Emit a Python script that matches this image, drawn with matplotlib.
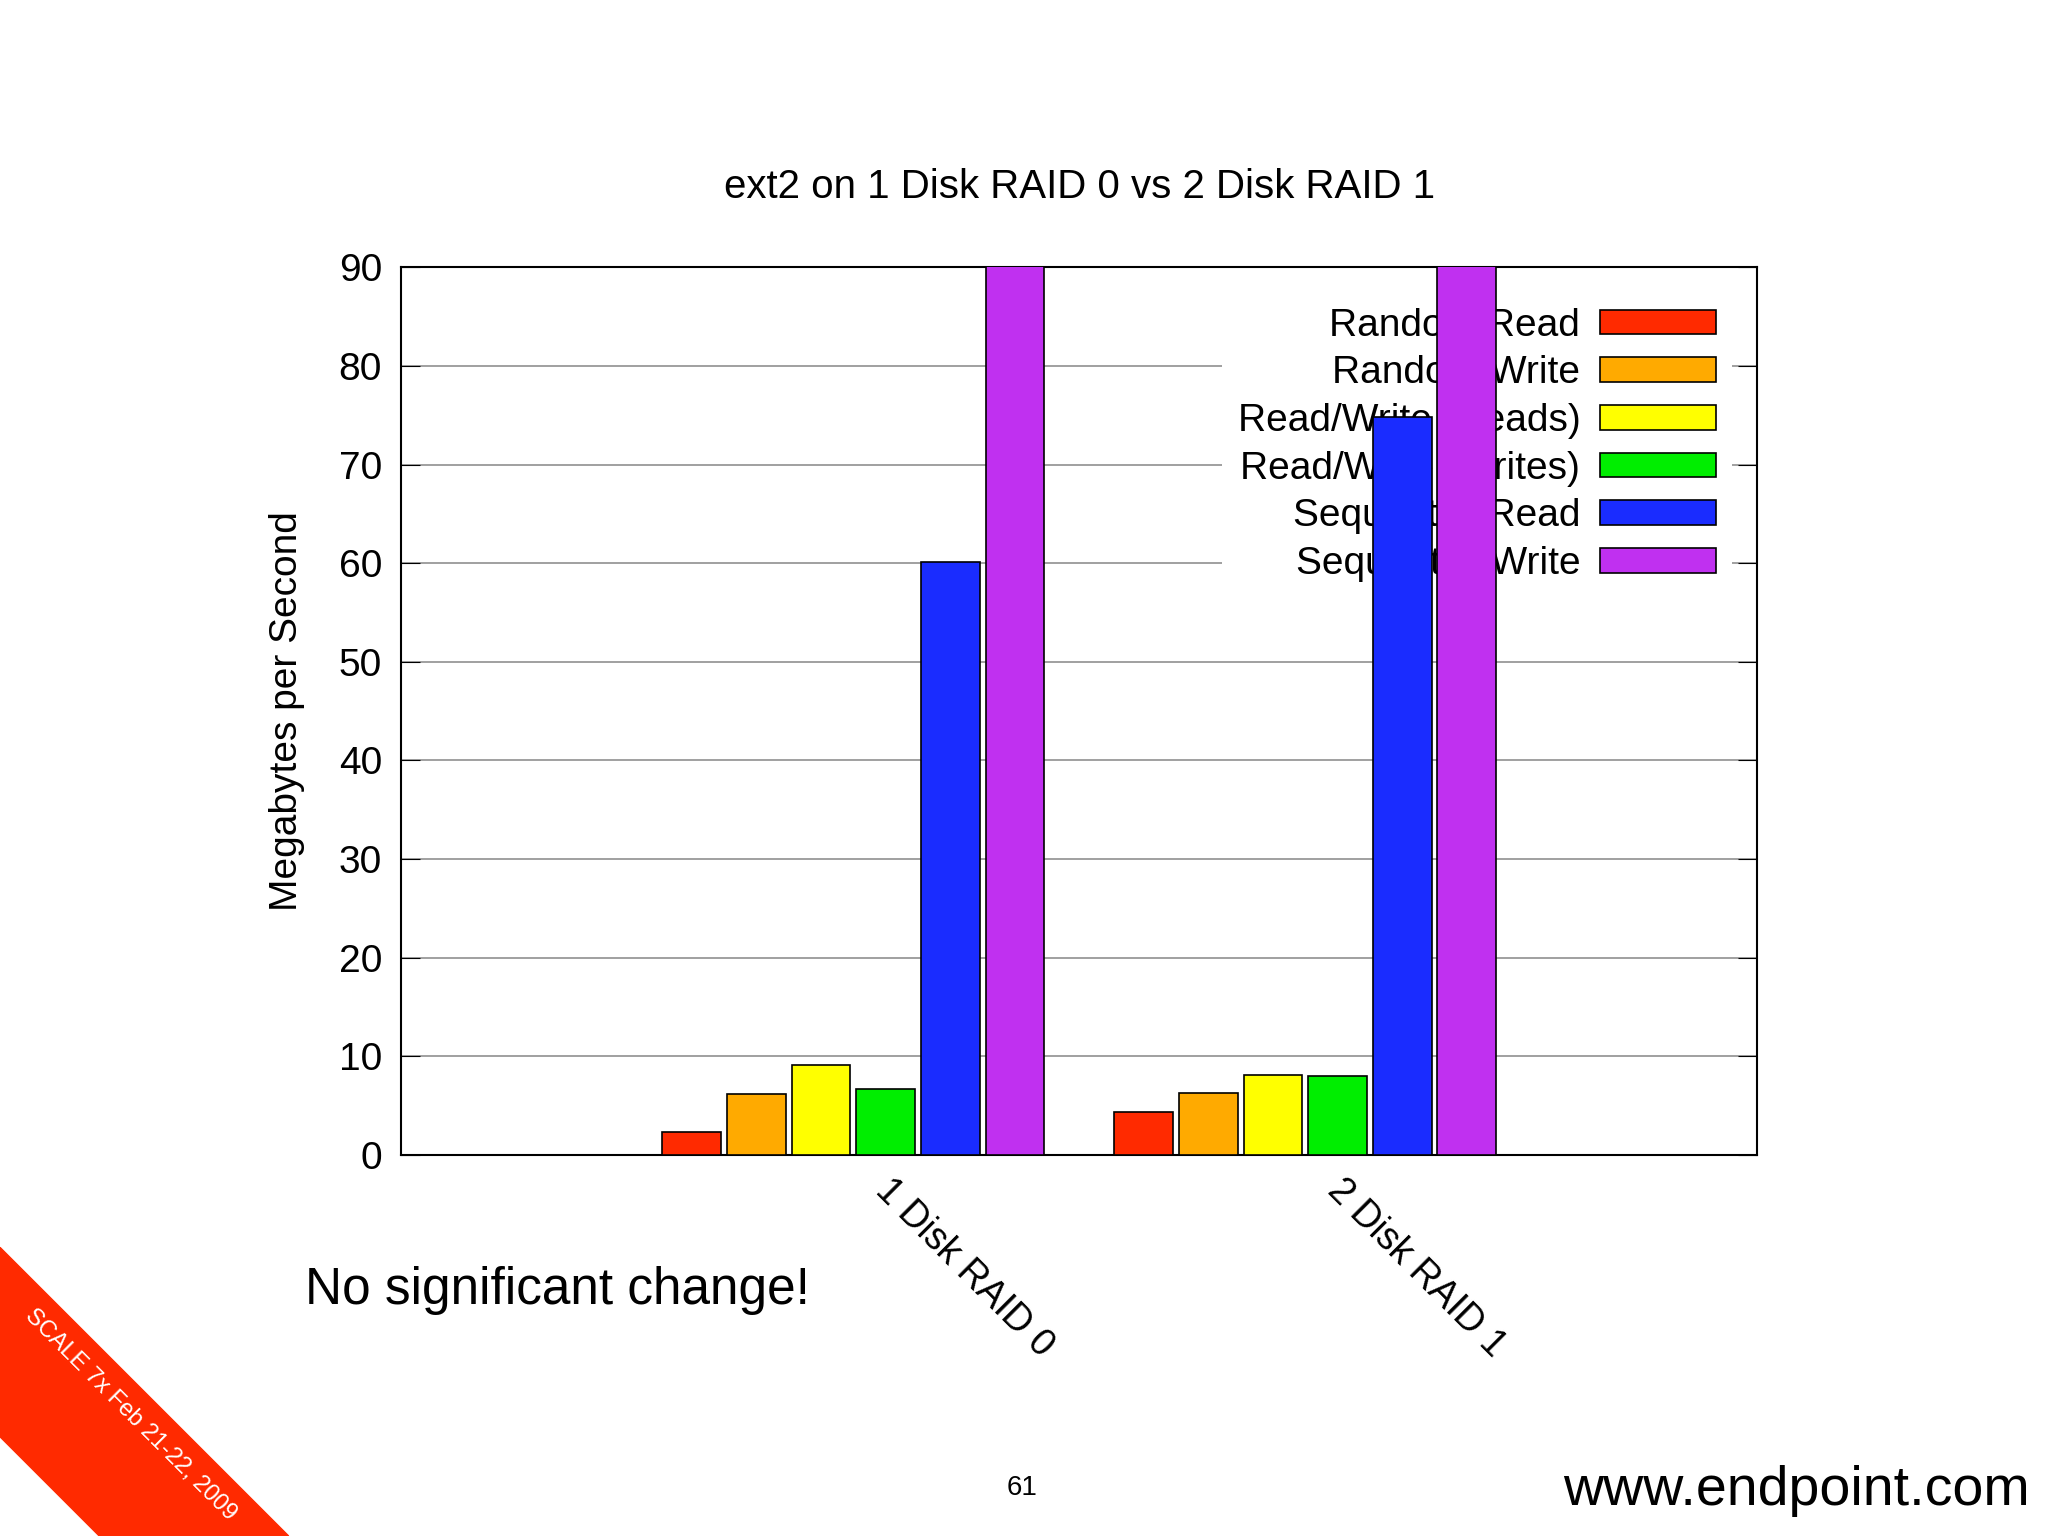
import matplotlib
matplotlib.use("Agg")
import matplotlib.pyplot as plt
import numpy as np
from matplotlib.patches import Polygon

groups = ["1 Disk RAID 0", "2 Disk RAID 1"]
series = ["Random Read", "Random Write", "Read/Write (Reads)",
          "Read/Write (Writes)", "Sequential Read", "Sequential Write"]
values = {
    "Random Read":         [2.3, 4.4],
    "Random Write":        [6.2, 6.3],
    "Read/Write (Reads)":  [9.1, 8.1],
    "Read/Write (Writes)": [6.7, 8.0],
    "Sequential Read":     [60.1, 74.8],
    "Sequential Write":    [92.0, 92.0],
}
colors = ["#ff2a00", "#ffaa00", "#ffff00", "#00ee00", "#1a2cff", "#c030f0"]
yticks = list(range(0, 91, 10))

plt.rcParams["font.family"] = ["Liberation Sans", "DejaVu Sans"]

fig = plt.figure(figsize=(20.48, 15.36), dpi=100)
ax = fig.add_axes([0.196, 0.248, 0.662, 0.578])

x = np.arange(len(groups))
step = 0.143
for i, (name, c) in enumerate(zip(series, colors)):
    offs = (i - 2.5) * step
    ax.bar(x + offs, values[name], width=0.13, color=c, edgecolor="black",
           linewidth=1.2, label=name, zorder=3)

ax.set_xlim(-1, 2)
ax.set_ylim(0, 90)
ax.set_yticks(yticks)
# gnuplot puts the rotated label start a little right of the group centre
ax.set_xticks(x + 0.09)
ax.set_xticklabels(groups, rotation=-45, ha="left", va="top",
                   rotation_mode="anchor", fontsize=27)
ax.tick_params(axis="y", labelsize=28, direction="in", length=14, right=True, pad=14)
ax.tick_params(axis="x", length=0, pad=12)
ax.yaxis.grid(True, color="#999999", linewidth=1.3, zorder=0)
ax.set_axisbelow(True)
for s in ax.spines.values():
    s.set_linewidth(1.5)
ax.set_ylabel("Megabytes per Second", fontsize=28, labelpad=24)
ax.set_title("ext2 on 1 Disk RAID 0 vs 2 Disk RAID 1", fontsize=29, pad=50)

leg = ax.legend(loc="upper right", markerfirst=False, fontsize=28, frameon=True,
                facecolor="white", edgecolor="none", framealpha=1.0,
                handlelength=3.0, handleheight=0.6, labelspacing=0.3,
                handletextpad=0.5, borderaxespad=0.3,
                bbox_to_anchor=(0.99, 0.985))
leg.set_zorder(2)

fig.text(0.272, 0.16, "No significant change!", fontsize=37, ha="center", va="center")
fig.text(0.499, 0.031, "61", fontsize=20, ha="center", va="center")
fig.text(0.877, 0.029, "www.endpoint.com", fontsize=40, ha="center", va="center")

W, H = 1568, 1176
pts = [(0, 955), (221, 1176), (76, 1176), (0, 1100)]
band = Polygon([(px / W, 1 - py / H) for px, py in pts], closed=True,
               transform=fig.transFigure, color="#ff2a00", zorder=5)
fig.patches.append(band)
fig.text(100 / W, 1 - 1083 / H, "SCALE 7x Feb 21-22, 2009", fontsize=17,
         color="white", rotation=-45, ha="center", va="center", zorder=6)

fig.savefig("out.png", dpi=100)
